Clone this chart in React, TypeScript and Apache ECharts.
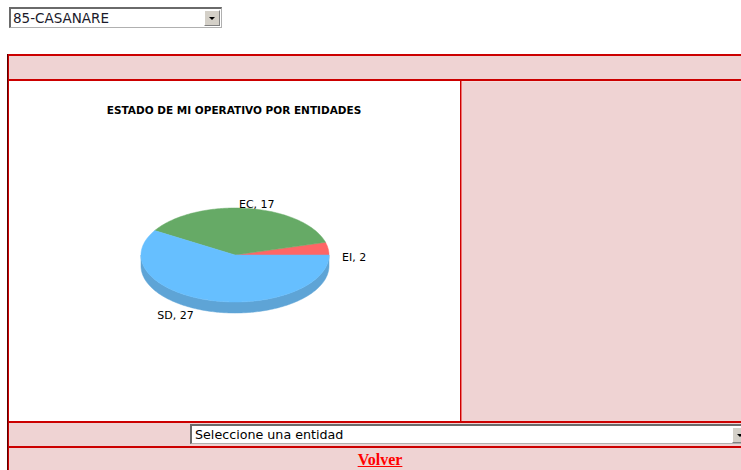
import React, { useEffect, useRef } from "react";
import * as echarts from "echarts";

const categories = ["EI", "EC", "SD"];
const values = [2, 17, 27];
const chartTitle = "ESTADO DE MI OPERATIVO POR ENTIDADES";
const topColors = ["#FF6666", "#66AA66", "#66BFFF"];
const sideColors = ["#D45656", "#558F55", "#5EA4D6"];
// label nudges (px) relative to slice mid-angle point on rim, and alignment
const labelNudge: [number, number, string][] = [
  [14, 9, "left"],
  [9, -4, "center"],
  [-16, 15, "right"],
];

const PINK = "#EFD3D3";
const RED = "#CC0000";

function Chart() {
  const ref = useRef<HTMLDivElement>(null);
  useEffect(() => {
    if (!ref.current) return;
    const chart = echarts.init(ref.current, undefined, { renderer: "svg" });
    const total = values.reduce((a, b) => a + b, 0);
    const cx = 226, cy = 174, rx = 94, ry = 47, depth = 11;
    const pt = (deg: number, dy = 0) => {
      const r = (deg * Math.PI) / 180;
      return [cx + rx * Math.cos(r), cy - ry * Math.sin(r) + dy];
    };
    chart.setOption({
      animation: false,
      title: {
        text: chartTitle,
        left: 220,
        top: 18,
        textAlign: "center",
        textStyle: { fontFamily: "DejaVu Sans", fontSize: 10.5, fontWeight: "bold", color: "#000" },
      },
      series: [
        {
          type: "custom",
          coordinateSystem: "none",
          data: values.map((v, i) => ({ value: v, name: categories[i] })),
          renderItem: (params: any, api: any) => {
            const i = params.dataIndex;
            let startVal = 0;
            for (let k = 0; k < i; k++) startVal += values[k];
            const v = api.value(0);
            const a0 = (startVal / total) * 360;
            const a1 = ((startVal + v) / total) * 360;
            const children: any[] = [];
            // side wall (front half: 180..360)
            const s0 = Math.max(a0, 180);
            const s1 = Math.min(a1, 360);
            if (s1 > s0) {
              const pts: number[][] = [];
              for (let t = s0; t <= s1; t += 1) pts.push(pt(t));
              pts.push(pt(s1));
              for (let t = s1; t >= s0; t -= 1) pts.push(pt(t, depth));
              pts.push(pt(s0, depth));
              children.push({
                type: "polygon",
                shape: { points: pts },
                style: { fill: sideColors[i], stroke: sideColors[i], lineWidth: 0.5 },
              });
            }
            // top sector
            const top: number[][] = [[cx, cy]];
            for (let t = a0; t < a1; t += 1) top.push(pt(t));
            top.push(pt(a1));
            children.push({
              type: "polygon",
              shape: { points: top },
              style: { fill: topColors[i], stroke: topColors[i], lineWidth: 0.5 },
            });
            // label
            const mid = (a0 + a1) / 2;
            const anchor = pt(mid);
            const nd = labelNudge[i];
            children.push({
              type: "text",
              x: anchor[0] + nd[0],
              y: anchor[1] + nd[1],
              style: {
                text: `${categories[i]}, ${v}`,
                fontFamily: "DejaVu Sans",
                fontSize: 11,
                fill: "#000",
                align: nd[2],
                verticalAlign: "middle",
              },
            });
            return { type: "group", children };
          },
        },
      ],
    });
    return () => chart.dispose();
  }, []);
  return <div ref={ref} style={{ width: 451, height: 340 }} />;
}

const abs = (s: React.CSSProperties): React.CSSProperties => ({ position: "absolute", ...s });

function Arrow({ left, top }: { left: number; top: number }) {
  return (
    <div
      style={abs({
        left,
        top,
        width: 16,
        height: 16,
        background: "#D4D0C8",
        borderTop: "1px solid #FFFFFF",
        borderLeft: "1px solid #FFFFFF",
        borderRight: "1px solid #808080",
        borderBottom: "1px solid #808080",
        boxSizing: "border-box",
      })}
    >
      <div
        style={abs({
          left: 4,
          top: 6,
          width: 0,
          height: 0,
          borderLeft: "3px solid transparent",
          borderRight: "3px solid transparent",
          borderTop: "3px solid #000",
        })}
      />
    </div>
  );
}

export default function App() {
  return (
    <div
      style={{
        position: "fixed",
        left: 0,
        top: 0,
        width: 741,
        height: 470,
        overflow: "hidden",
        background: "#FFFFFF",
      }}
    >
      {/* top select */}
      <div
        style={abs({
          left: 9,
          top: 7,
          width: 213,
          height: 21,
          background: "#fff",
          borderTop: "2px solid #6A6A6A",
          borderLeft: "2px solid #6A6A6A",
          borderRight: "1px solid #B0B0B0",
          borderBottom: "1px solid #B0B0B0",
          boxSizing: "border-box",
        })}
      >
        <div
          style={abs({
            left: 2,
            top: 0,
            lineHeight: "18px",
            fontFamily: "DejaVu Sans",
            fontSize: 13.5,
            color: "#1A1A2A",
            whiteSpace: "nowrap",
          })}
        >
          85-CASANARE
        </div>
        <Arrow left={193} top={1} />
      </div>

      {/* table frame */}
      <div style={abs({ left: 7, top: 54, width: 760, height: 420, background: PINK })} />
      <div style={abs({ left: 7, top: 54, width: 760, height: 2, background: RED })} />
      <div style={abs({ left: 7, top: 54, width: 1, height: 420, background: "#5A0000" })} />
      <div style={abs({ left: 8, top: 54, width: 1, height: 420, background: RED })} />
      <div style={abs({ left: 9, top: 79, width: 760, height: 2, background: RED })} />
      {/* white chart cell */}
      <div style={abs({ left: 9, top: 81, width: 451, height: 340, background: "#fff" })}>
        <Chart />
      </div>
      <div style={abs({ left: 460, top: 81, width: 1, height: 340, background: RED })} />
      <div style={abs({ left: 461, top: 81, width: 1, height: 340, background: "#F07070" })} />
      <div style={abs({ left: 462, top: 81, width: 300, height: 1, background: "#F6DCDC" })} />
      <div style={abs({ left: 9, top: 421, width: 760, height: 2, background: RED })} />

      {/* bottom select */}
      <div
        style={abs({
          left: 190,
          top: 424,
          width: 560,
          height: 20,
          background: "#fff",
          borderTop: "2px solid #6A6A6A",
          borderLeft: "2px solid #6A6A6A",
          borderBottom: "1px solid #B0B0B0",
          boxSizing: "border-box",
        })}
      >
        <div
          style={abs({
            left: 3,
            top: 0,
            lineHeight: "17px",
            fontFamily: "DejaVu Sans",
            fontSize: 12.7,
            color: "#000",
            whiteSpace: "nowrap",
          })}
        >
          Seleccione una entidad
        </div>
        <Arrow left={540} top={1} />
      </div>

      <div style={abs({ left: 9, top: 446, width: 760, height: 2, background: RED })} />
      <div
        style={abs({
          left: 0,
          top: 451,
          width: 760,
          textAlign: "center",
          fontFamily: "Liberation Serif",
          fontWeight: "bold",
          fontSize: 16,
          lineHeight: "18px",
          color: "#FF0000",
          textDecoration: "underline",
        })}
      >
        Volver
      </div>
    </div>
  );
}
